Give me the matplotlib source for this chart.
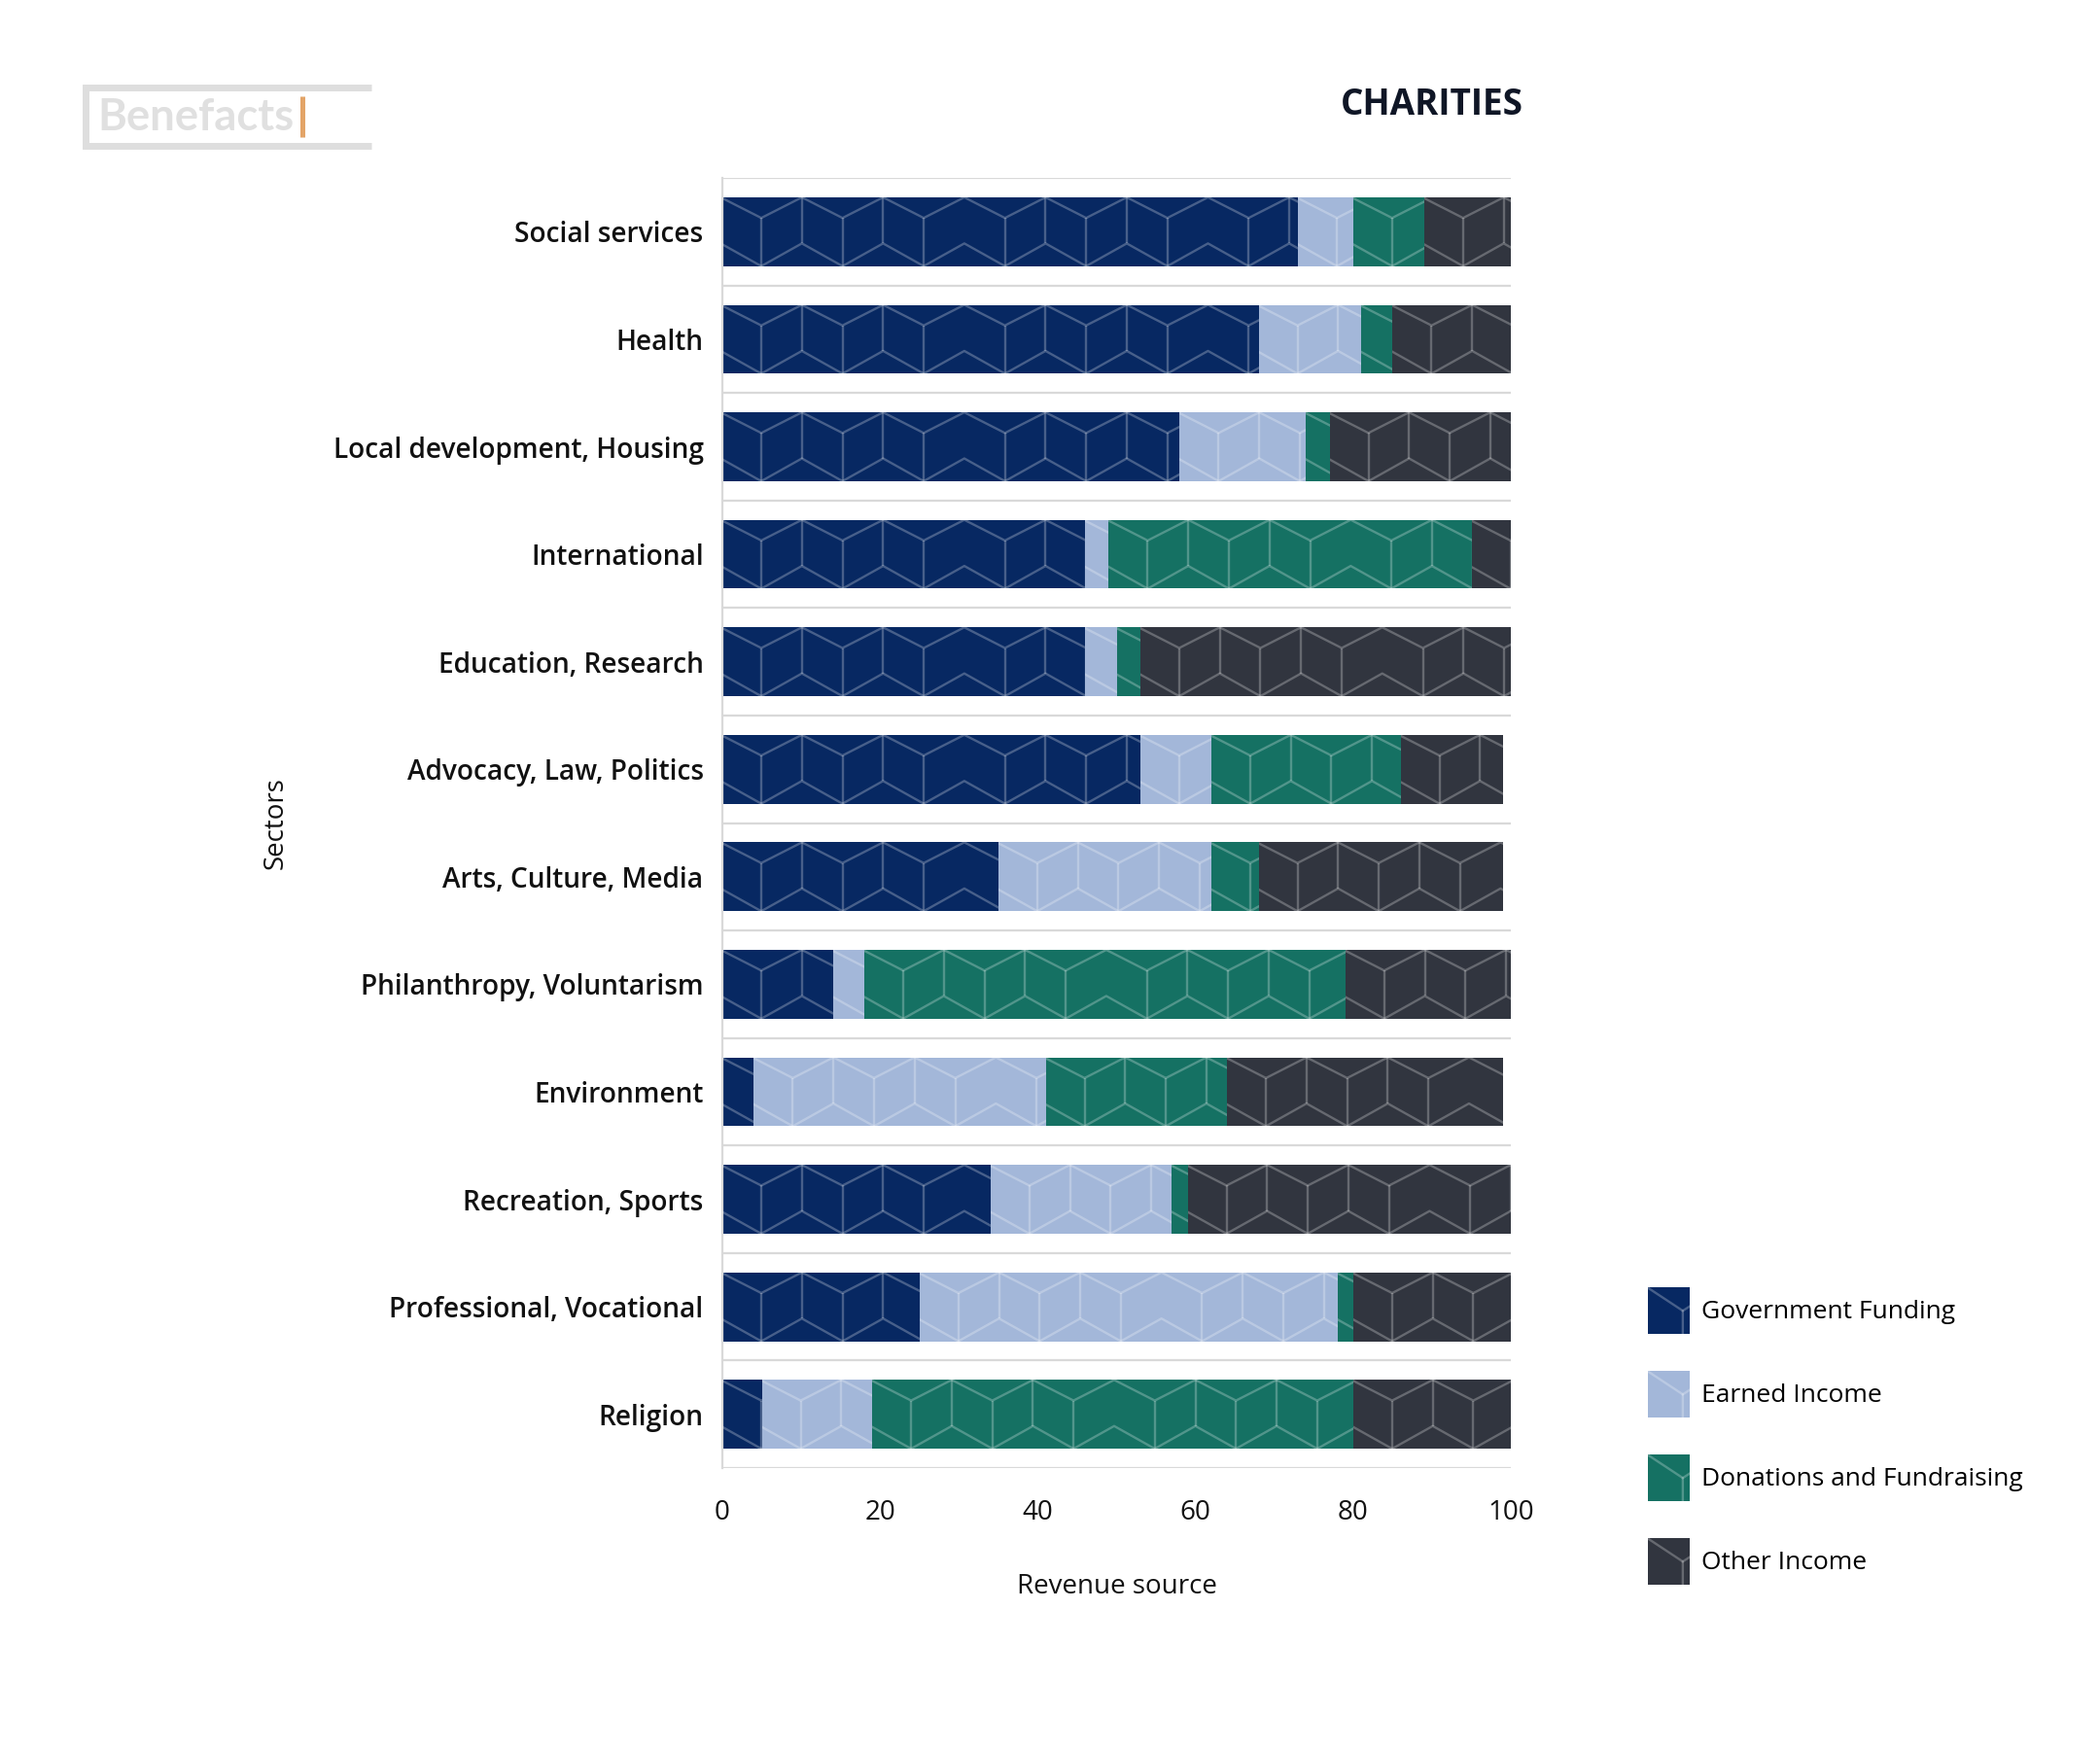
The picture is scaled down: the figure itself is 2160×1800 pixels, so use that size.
import numpy as np
import matplotlib
matplotlib.use("Agg")
import matplotlib.pyplot as plt
from matplotlib.collections import LineCollection
from matplotlib.patches import Rectangle, Patch
from matplotlib.legend_handler import HandlerPatch
from matplotlib.lines import Line2D

plt.rcParams['font.family'] = ['Open Sans', 'DejaVu Sans']

sectors = ['Social services', 'Health', 'Local development, Housing', 'International',
           'Education, Research', 'Advocacy, Law, Politics', 'Arts, Culture, Media',
           'Philanthropy, Voluntarism', 'Environment', 'Recreation, Sports',
           'Professional, Vocational', 'Religion']
government = [73, 68, 58, 46, 46, 53, 35, 14, 4, 34, 25, 5]
earned = [7, 13, 16, 3, 4, 9, 27, 4, 37, 23, 53, 14]
donations = [9, 4, 3, 46, 3, 24, 6, 61, 23, 2, 2, 61]
other = [11, 15, 23, 5, 47, 13, 31, 21, 35, 41, 20, 20]

series_names = ['Government Funding', 'Earned Income', 'Donations and Fundraising', 'Other Income']
series_values = [government, earned, donations, other]
colors = ['#072862', '#a3b7d9', '#157163', '#31353f']

PERIOD = 10.3
OFFSET = 4.93


def add_pattern(ax, rect):
    # cube-like texture drawn inside one bar segment
    x0, y0 = rect.get_x(), rect.get_y()
    w, h = rect.get_width(), rect.get_height()
    if w <= 0:
        return
    yf = lambda f: y0 + f * h
    segs = []
    upper, lower = [], []
    for k in range(-1, int(w / PERIOD) + 2):
        xe = x0 + OFFSET + PERIOD * k
        xo = xe + PERIOD / 2
        upper += [(xe, yf(0.3)), (xo, yf(0.0))]
        lower += [(xe, yf(1.0)), (xo, yf(0.67))]
        segs.append([(xe, yf(0.3)), (xe, yf(1.0))])
        if k % 3 != 2:
            segs.append([(xo, yf(0.0)), (xo, yf(0.67))])
    segs += [upper, lower]
    lc = LineCollection(segs, colors='white', linewidths=0.85, alpha=0.26, zorder=3)
    ax.add_collection(lc, autolim=False)
    lc.set_clip_path(rect)


class PatternHandler(HandlerPatch):
    def create_artists(self, legend, orig_handle, xdescent, ydescent, width, height, fontsize, trans):
        r = Rectangle((-xdescent, -ydescent), width, height,
                      facecolor=orig_handle.get_facecolor(), edgecolor='none', transform=trans)
        x0, y0 = -xdescent, -ydescent
        jx, jy = x0 + 0.83 * width, y0 + 0.5 * height
        ln = Line2D([x0, jx, jx], [y0 + height, jy, y0], color='white', alpha=0.26, lw=0.85, transform=trans)
        ln2 = Line2D([jx, x0 + width], [jy, y0 + 0.6 * height], color='white', alpha=0.26, lw=0.85, transform=trans)
        return [r, ln, ln2]


fig = plt.figure(figsize=(10.8, 9), dpi=200)
ax = fig.add_axes([0.344, 0.1611, 0.3755, 0.7372])

ypos = np.arange(len(sectors))
left = np.zeros(len(sectors))
for name, vals, col in zip(series_names, series_values, colors):
    bars = ax.barh(ypos, vals, left=left, height=0.64, color=col, label=name, zorder=2)
    for rect in bars:
        add_pattern(ax, rect)
    left += np.array(vals)

ax.set_xlim(0, 100)
ax.set_ylim(len(sectors) - 0.5, -0.5)
ax.set_xticks([0, 20, 40, 60, 80, 100])
ax.set_yticks(ypos)
ax.set_yticklabels(sectors, fontweight='semibold', fontsize=10.1, color='#111111')
ax.set_yticks(np.arange(-0.5, len(sectors), 1), minor=True)
ax.tick_params(axis='y', which='both', length=0, pad=7)
ax.tick_params(axis='x', length=0, pad=11.5, labelsize=10, labelcolor='#111111')
ax.grid(which='minor', axis='y', color='#d9d9d9', linewidth=0.8, zorder=0)
for s in ['top', 'right', 'bottom']:
    ax.spines[s].set_visible(False)
ax.spines['left'].set_color('#d9d9d9')
ax.spines['left'].set_linewidth(0.8)

ax.set_xlabel('Revenue source', fontsize=10, color='#111111')
ax.xaxis.set_label_coords(0.5, -0.092)
ax.xaxis.label.set_va('center')
ax.set_ylabel('Sectors', fontsize=10, color='#111111')
ax.yaxis.set_label_coords(-0.566, 0.5)
ax.yaxis.label.set_va('center')

fig.text(0.6818, 0.940, 'CHARITIES', fontsize=13.3, fontweight='bold', color='#0f1626',
         ha='center', va='center')

handles = [Patch(facecolor=c, label=n) for n, c in zip(series_names, colors)]
fig.legend(handles=handles, loc='upper left', bbox_to_anchor=(0.7845, 0.2643), frameon=False,
           fontsize=9.5, handlelength=1.66, handleheight=2.42, labelspacing=1.44,
           handletextpad=0.45, borderpad=0, borderaxespad=0,
           handler_map={Patch: PatternHandler()})

# logo box
logo = '#dedede'
fig.add_artist(Line2D([382 / 2160, 87.5 / 2160, 87.5 / 2160, 382 / 2160],
                      [1 - 89.5 / 1800, 1 - 89.5 / 1800, 1 - 149.5 / 1800, 1 - 149.5 / 1800],
                      color=logo, lw=2.5, transform=fig.transFigure,
                      solid_joinstyle='miter', solid_capstyle='butt'))
fig.text(100 / 2160, 1 - 134 / 1800, 'Benefacts', fontsize=16.4, fontweight='bold',
         family='Lato', color='#e0e0e0', ha='left', va='baseline')
fig.add_artist(Line2D([311 / 2160, 311 / 2160], [1 - 99 / 1800, 1 - 141 / 1800],
                      color='#e3a468', lw=1.8, transform=fig.transFigure, solid_capstyle='butt'))

fig.savefig('out.png', dpi=200)
